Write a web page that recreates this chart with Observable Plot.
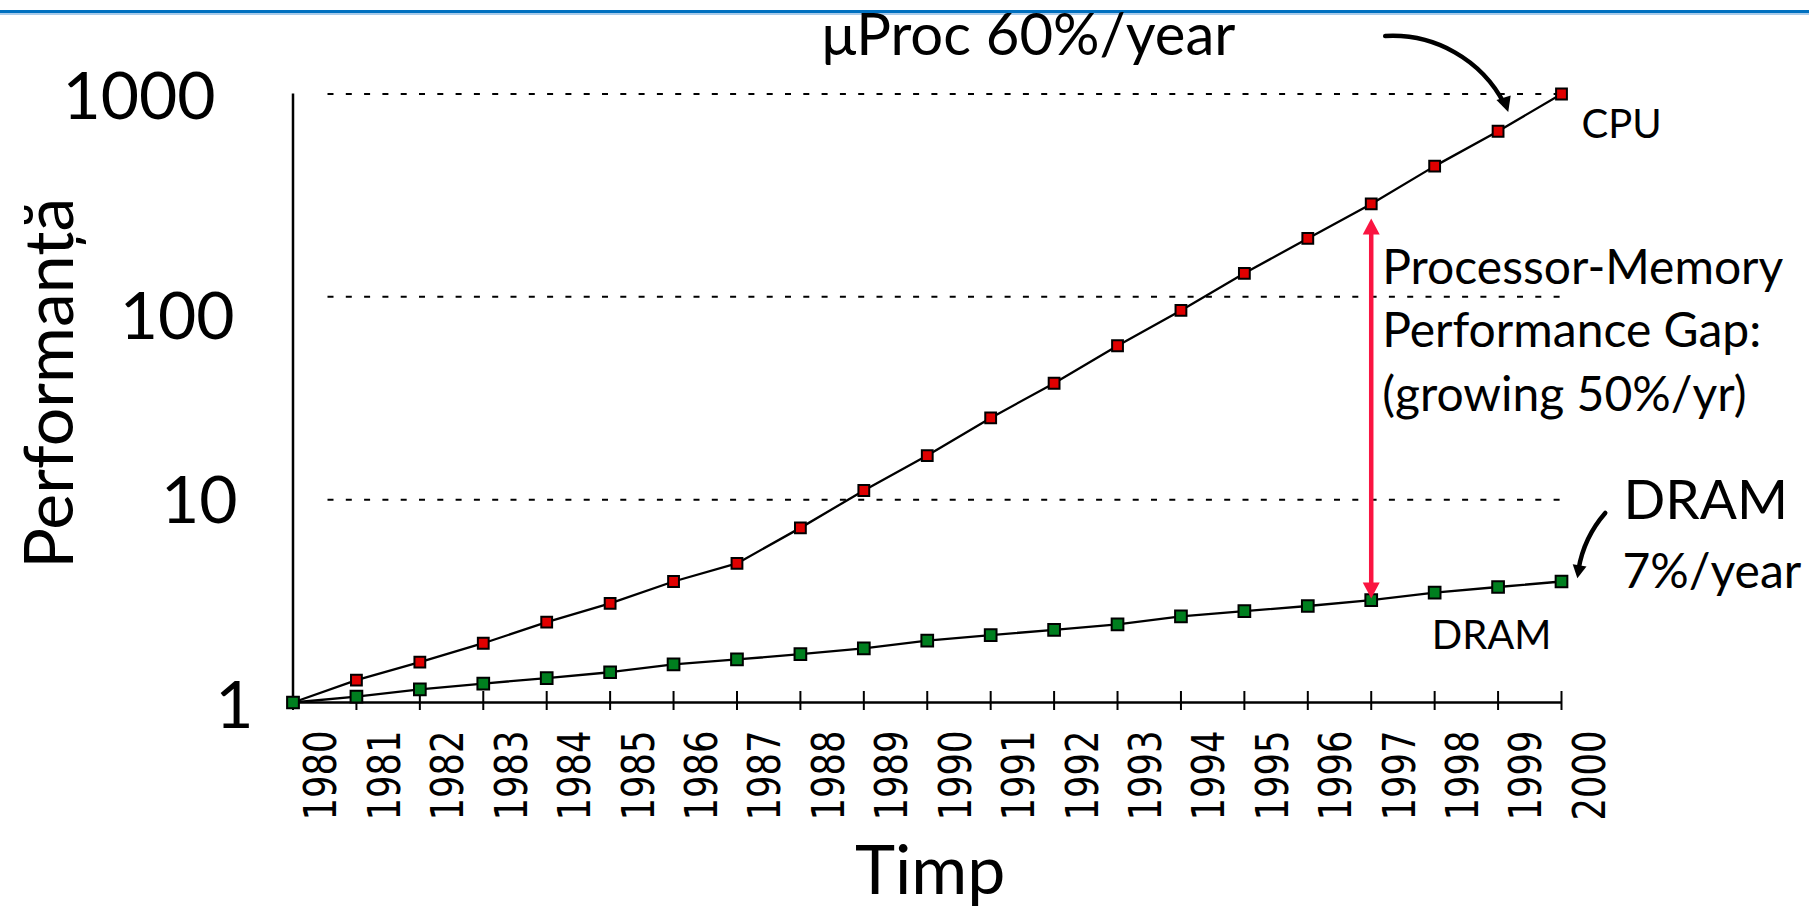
<!DOCTYPE html>
<html>
<head>
<meta charset="utf-8">
<script src="https://cdn.jsdelivr.net/npm/d3@7"></script>
<script src="https://cdn.jsdelivr.net/npm/@observablehq/plot@0.6"></script>
<style>
  html, body { margin: 0; padding: 0; background: #fff; }
  body { width: 1809px; height: 908px; overflow: hidden; position: relative; font-family: Lato, sans-serif; }
  #chart { position: absolute; left: 0; top: 0; }
  #topline { position: absolute; left: 0; top: 10px; width: 1809px; height: 3px; background: #0070c0; border-bottom: 2px solid #a9cbea; }
</style>
</head>
<body>
<div id="topline"></div>
<div id="chart"></div>
<script>
// ---- data ----
const years = [1980, 1981, 1982, 1983, 1984, 1985, 1986, 1987, 1988, 1989, 1990,
               1991, 1992, 1993, 1994, 1995, 1996, 1997, 1998, 1999, 2000];
const cpu  = [1, 1.29, 1.58, 1.96, 2.49, 3.08, 3.95, 4.85, 7.26, 11.1, 16.5,
              25.3, 37.5, 57.4, 85.7, 130.6, 194, 287, 441, 655, 1000];
const dram = [1, 1.07, 1.16, 1.24, 1.32, 1.41, 1.54, 1.63, 1.73, 1.85, 2.02,
              2.15, 2.28, 2.43, 2.66, 2.82, 2.99, 3.20, 3.48, 3.71, 3.95];
const yTicks = [1, 10, 100, 1000];
const gridValues = [10, 100, 1000];
const gapYear = 1997;
const procArrow = [{x1: 1997.22, y1: 1930, x2: 1999.16, y2: 815}];
const dramArrow = [{x1: 2000.69, y1: 8.6, x2: 2000.25, y2: 4.1}];

const cpuData = years.map((year, i) => ({year, value: cpu[i]}));
const dramData = years.map((year, i) => ({year, value: dram[i]}));
const gi = years.indexOf(gapYear);

const RED = "#e00000", GREEN = "#007f1f", GAP = "#fa1440";
const FONT = "Lato, 'Open Sans', sans-serif";

// filled arrow-head symbol with its tip at the origin
const head = (angleDeg, len, wid) => ({
  draw(ctx) {
    const a = angleDeg * Math.PI / 180, ux = Math.cos(a), uy = Math.sin(a);
    const px = -uy, py = ux;
    ctx.moveTo(0, 0);
    ctx.lineTo(-ux * len + px * wid / 2, -uy * len + py * wid / 2);
    ctx.lineTo(-ux * len - px * wid / 2, -uy * len - py * wid / 2);
    ctx.closePath();
  }
});

const plot = Plot.plot({
  width: 1809, height: 908,
  marginLeft: 292.5, marginRight: 248, marginTop: 93.5, marginBottom: 206,
  style: {fontFamily: FONT, background: "transparent", overflow: "visible", color: "black"},
  x: {domain: [1980, 2000], axis: null},
  y: {type: "log", domain: [1, 1000], axis: null},
  marks: [
    Plot.ruleY(gridValues, {stroke: "black", strokeWidth: 2, strokeDasharray: "6 12.3", insetLeft: 35}),
    Plot.ruleX([1980], {stroke: "black", strokeWidth: 2.5}),
    Plot.ruleY([1], {stroke: "black", strokeWidth: 2.5}),
    Plot.axisX({ticks: years, tickSize: 19, dy: -11, strokeWidth: 2, fill: "none", label: null}),
    Plot.axisX({ticks: years, tickSize: 0, tickPadding: 28, tickRotate: -90, dx: 29,
                tickFormat: d => String(d), fontSize: 45, fontFamily: "DejaVu Sans", fill: "black", label: null}),
    Plot.axisY({ticks: yTicks, tickSize: 0, tickPadding: 58.5, tickFormat: d => String(d),
                fontSize: 66, fontFamily: FONT, fill: "black", label: null}),
    Plot.line(cpuData, {x: "year", y: "value", stroke: "black", strokeWidth: 2.3}),
    Plot.line(dramData, {x: "year", y: "value", stroke: "black", strokeWidth: 2.3}),
    Plot.dot(cpuData, {x: "year", y: "value", symbol: "square", r: 6.1, fill: RED, stroke: "black", strokeWidth: 2}),
    Plot.dot(dramData, {x: "year", y: "value", symbol: "square", r: 6.6, fill: GREEN, stroke: "black", strokeWidth: 2}),
    // processor-memory gap arrow
    Plot.ruleX([gapYear], {x: d => d, y1: () => cpu[gi], y2: () => dram[gi], stroke: GAP, strokeWidth: 4.5,
                           insetTop: 28, insetBottom: 15}),
    Plot.dot([gapYear], {x: d => d, y: () => cpu[gi], dy: 14.5, symbol: head(-90, 16, 17), fill: GAP, stroke: "none"}),
    Plot.dot([gapYear], {x: d => d, y: () => dram[gi], dy: -1.5, symbol: head(90, 16, 17), fill: GAP, stroke: "none"}),
    // black curved arrows
    Plot.arrow(procArrow, {x1: "x1", y1: "y1", x2: "x2", y2: "y2", bend: 35, headLength: 0, insetEnd: 9,
                           stroke: "black", strokeWidth: 4.5}),
    Plot.dot(procArrow, {x: "x2", y: "y2", symbol: head(72, 15, 15), fill: "black", stroke: "none"}),
    Plot.arrow(dramArrow, {x1: "x1", y1: "y1", x2: "x2", y2: "y2", bend: -18, headLength: 0, insetEnd: 9,
                           stroke: "black", strokeWidth: 4.5}),
    Plot.dot(dramArrow, {x: "x2", y: "y2", symbol: head(100, 13, 14), fill: "black", stroke: "none"}),
    // texts
    Plot.text(["Performanță"], {text: d => d, frameAnchor: "left", textAnchor: "middle", lineAnchor: "middle",
                                rotate: -90, dx: -241.3, dy: -15, fontSize: 68, fontFamily: FONT, fill: "black"}),
    Plot.text(["Timp"], {text: d => d, frameAnchor: "bottom", textAnchor: "middle", lineAnchor: "middle",
                         dx: 3, dy: 170, fontSize: 68, fontFamily: FONT, fill: "black"}),
    Plot.text(["μProc 60%/year"], {text: d => d, frameAnchor: "top-left", textAnchor: "start", lineAnchor: "middle",
                                   dx: 528.5, dy: -58, fontSize: 58, fontFamily: FONT, fill: "black"}),
    Plot.text([cpuData[cpuData.length - 1]], {x: "year", y: "value", text: () => "CPU", textAnchor: "start",
                                   dx: 20, dy: 30.7, fontSize: 40, fontFamily: FONT, fill: "black"}),
    Plot.text([dramData[dramData.length - 2]], {x: "year", y: "value", text: () => "DRAM", textAnchor: "middle",
                                   dx: -6.5, dy: 48.7, fontSize: 40, fontFamily: FONT, fill: "black"}),
    Plot.text([dramData[dramData.length - 1]], {x: "year", y: "value", text: () => "DRAM", textAnchor: "start",
                                   dx: 62, dy: -80.3, fontSize: 55, fontFamily: FONT, fill: "black"}),
    Plot.text([dramData[dramData.length - 1]], {x: "year", y: "value", text: () => "7%/year", textAnchor: "start",
                                   dx: 61, dy: -9, fontSize: 48, fontFamily: FONT, fill: "black"}),
    Plot.text([cpuData[gi]], {x: "year", y: "value",
                              text: () => "Processor-Memory\nPerformance Gap:\n(growing 50%/yr)",
                              textAnchor: "start", lineAnchor: "top", lineHeight: 1.32,
                              dx: 11, dy: 35, fontSize: 48, fontFamily: FONT, fill: "black"})
  ]
});

// label fine-tuning (styling only)
plot.querySelectorAll('[aria-label="x-axis tick label"] text').forEach(t => {
  t.setAttribute("textLength", 90);
  t.setAttribute("lengthAdjust", "spacingAndGlyphs");
});
const yShift = {"1": [19, 4.5], "10": [3, 2], "100": [0, 21], "1000": [-19, 4]};
plot.querySelectorAll('[aria-label="y-axis tick label"] text').forEach(t => {
  const s = yShift[t.textContent.trim()];
  if (s) { t.setAttribute("dx", s[0]); t.setAttribute("dy", s[1]); }
});

document.getElementById("chart").appendChild(plot);
</script>
</body>
</html>
